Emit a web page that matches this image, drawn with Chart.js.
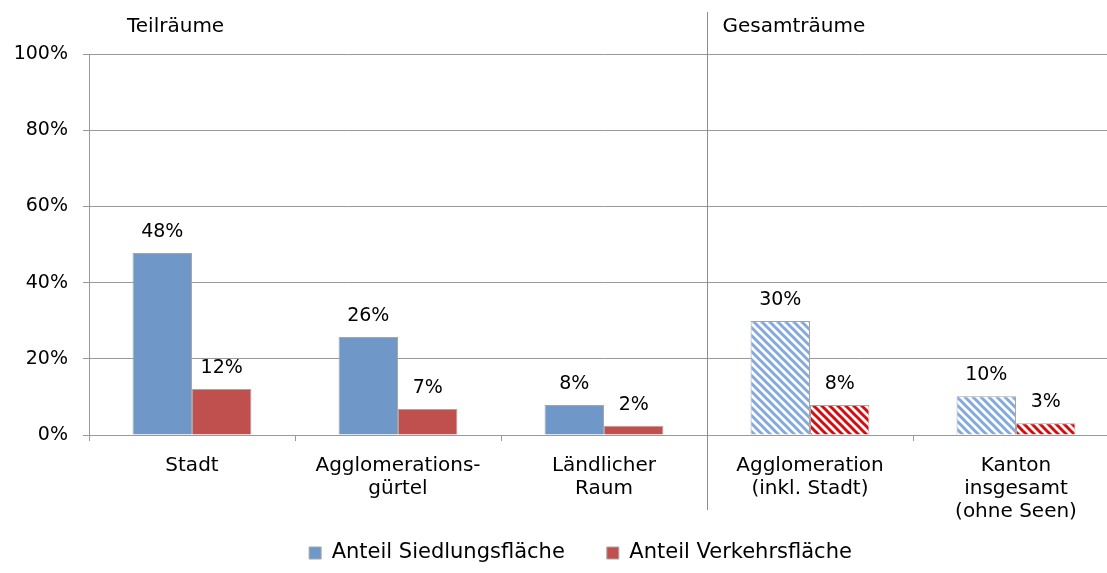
<!DOCTYPE html>
<html>
<head>
<meta charset="utf-8">
<script src="https://cdn.jsdelivr.net/npm/chart.js@4/dist/chart.umd.min.js"></script>
<style>
  html, body { margin: 0; padding: 0; background: #fff; overflow: hidden; }
  #wrap { width: 1107px; height: 573px; overflow: hidden; }
  /* the plot runs past the right edge, as in the original */
  #inner { width: 1119px; height: 573px; }
</style>
</head>
<body>
<div id="wrap"><div id="inner"><canvas id="chart"></canvas></div></div>
<script>
// categories and values
var categories = [
    ["Stadt"],
    ["Agglomerations-", "gürtel"],
    ["Ländlicher", "Raum"],
    ["Agglomeration", "(inkl. Stadt)"],
    ["Kanton", "insgesamt", "(ohne Seen)"]
];
var siedlung = [47.8, 25.7, 7.9, 29.9, 10.2];
var verkehr = [12.1, 6.8, 2.4, 7.9, 3.1];
var hatched = [false, false, false, true, true];
var yTicks = [0, 20, 40, 60, 80, 100];

var FONT = "'DejaVu Sans', Verdana, sans-serif";
var blue = "#6f98c9", red = "#c0504d";

function stripes(color) {
    var c = document.createElement("canvas");
    c.width = 8; c.height = 8;
    var g = c.getContext("2d");
    g.fillStyle = "#fff";
    g.fillRect(0, 0, 8, 8);
    g.strokeStyle = color;
    g.lineWidth = 3;
    g.beginPath();
    g.moveTo(-2, -2); g.lineTo(10, 10);
    g.moveTo(-6, 2); g.lineTo(2, 10);
    g.moveTo(6, -2); g.lineTo(14, 6);
    g.stroke();
    return g.createPattern(c, "repeat");
}
var blueHatch = stripes("#86aadb");
var redHatch = stripes("#d01010");

function fill(solid, hatch) {
    return function (ctx) {
        if (ctx.type === "data" && hatched[ctx.dataIndex]) return hatch;
        return solid;
    };
}

var valueLabels = {
    id: "valueLabels",
    afterDatasetsDraw: function (chart) {
        var ctx = chart.ctx;
        ctx.save();
        ctx.font = "19px " + FONT;
        ctx.fillStyle = "#000";
        ctx.textAlign = "center";
        ctx.textBaseline = "middle";
        chart.data.datasets.forEach(function (ds, i) {
            chart.getDatasetMeta(i).data.forEach(function (bar, j) {
                ctx.fillText(Math.round(ds.data[j]) + "%", bar.x, bar.y - 21);
            });
        });
        ctx.restore();
    }
};

var sections = {
    id: "sections",
    afterDraw: function (chart) {
        var ctx = chart.ctx, x = chart.scales.x;
        var div = Math.round((x.getPixelForValue(2) + x.getPixelForValue(3)) / 2) + 0.5;
        ctx.save();
        ctx.strokeStyle = "#8c8c8c";
        ctx.lineWidth = 1;
        ctx.beginPath();
        ctx.moveTo(div, 12);
        ctx.lineTo(div, 510);
        ctx.stroke();
        ctx.font = "20px " + FONT;
        ctx.fillStyle = "#000";
        ctx.textBaseline = "middle";
        ctx.fillText("Teilräume", chart.chartArea.left + 38, 27);
        ctx.fillText("Gesamträume", div + 15, 27);
        ctx.restore();
    }
};

// legend sits a bit right of centre and its top padding overlaps the axis labels
var legendShift = {
    id: "legendShift",
    afterLayout: function (chart) {
        var lg = chart.legend;
        lg.left += 21;
        lg.right += 21;
        lg.top -= 29.5;
    }
};

new Chart(document.getElementById("chart"), {
    type: "bar",
    data: {
        labels: categories,
        datasets: [{
            label: "Anteil Siedlungsfläche",
            data: siedlung,
            backgroundColor: fill(blue, blueHatch),
            borderColor: "#a6a6a6",
            borderWidth: 1
        }, {
            label: "Anteil Verkehrsfläche",
            data: verkehr,
            backgroundColor: fill(red, redHatch),
            borderColor: "#a6a6a6",
            borderWidth: 1
        }]
    },
    options: {
        responsive: true,
        maintainAspectRatio: false,
        animation: false,
        events: [],
        layout: { padding: { left: 0, right: 0, top: 54, bottom: 2 } },
        datasets: { bar: { categoryPercentage: 0.577, barPercentage: 1 } },
        scales: {
            x: {
                grid: { drawOnChartArea: false, color: "#999", tickLength: 6 },
                border: { color: "#999" },
                ticks: { color: "#000", font: { family: FONT, size: 20, lineHeight: 1.15 }, padding: 13, maxRotation: 0, autoSkip: false },
                afterFit: function (s) { s.height = 95; }
            },
            y: {
                min: 0,
                max: 100,
                afterBuildTicks: function (s) { s.ticks = yTicks.map(function (v) { return { value: v }; }); },
                grid: { color: "#999", tickLength: 6 },
                border: { color: "#999" },
                ticks: { color: "#000", font: { family: FONT, size: 19 }, padding: 15, callback: function (v) { return v + "%"; } },
                afterFit: function (s) { s.width = 89; }
            }
        },
        plugins: {
            tooltip: { enabled: false },
            legend: {
                position: "bottom",
                maxHeight: 41,
                labels: { color: "#000", font: { family: FONT, size: 21 }, boxWidth: 12, boxHeight: 12, padding: 42 }
            }
        }
    },
    plugins: [valueLabels, sections, legendShift]
});
</script>
</body>
</html>
